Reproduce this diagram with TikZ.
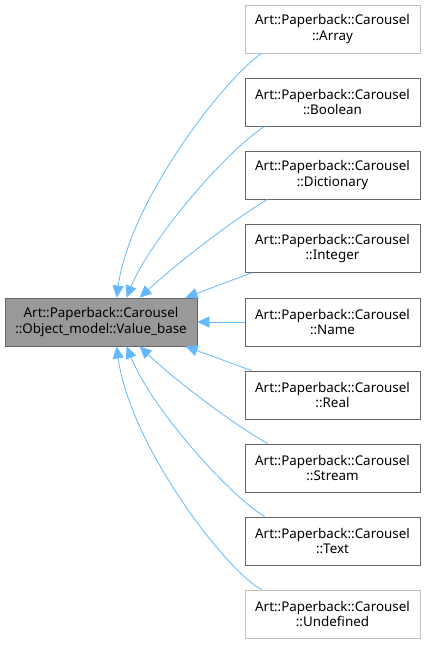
\documentclass[tikz,border=0pt]{standalone}
\usepackage{fontspec}
\setmainfont{Noto Sans}
\usetikzlibrary{arrows.meta}
\definecolor{edgeblue}{HTML}{63B8FF}
\definecolor{boxdark}{HTML}{666666}
\definecolor{boxlight}{HTML}{BFBFBF}
\definecolor{basefill}{HTML}{999999}
\tikzset{
  cls/.style={draw=boxdark, fill=white, line width=0.8pt, minimum width=175pt, minimum height=48pt, align=center, font=\fontsize{13.4}{15.5}\selectfont, inner sep=0pt},
  clslight/.style={cls, draw=boxlight},
  basecls/.style={cls, fill=basefill, minimum width=192pt, minimum height=48pt},
  edge/.style={draw=edgeblue, line width=0.8pt, -{Triangle[length=12pt,width=11pt]}}
}
\begin{document}
\begin{tikzpicture}[x=1pt,y=-1pt]
\useasboundingbox (0,0) rectangle (425,646);
\node[basecls] (base) at (101,322) {Art::Paperback::Carousel\\::Object\_model::Value\_base};
\node[clslight] (array) at (332.5,29) {Art::Paperback::Carousel\\::Array};
\node[cls] (boolean) at (332.5,102) {Art::Paperback::Carousel\\::Boolean};
\node[cls] (dict) at (332.5,175) {Art::Paperback::Carousel\\::Dictionary};
\node[cls] (integer) at (332.5,248.5) {Art::Paperback::Carousel\\::Integer};
\node[cls] (name) at (332.5,322) {Art::Paperback::Carousel\\::Name};
\node[cls] (real) at (332.5,395) {Art::Paperback::Carousel\\::Real};
\node[cls] (stream) at (332.5,468) {Art::Paperback::Carousel\\::Stream};
\node[cls] (text) at (332.5,541) {Art::Paperback::Carousel\\::Text};
\node[clslight] (undef) at (332.5,614) {Art::Paperback::Carousel\\::Undefined};

\draw[edge] ([xshift=17pt]array.south west) .. controls (225,78) and (130,200) .. ([xshift=112pt]base.north west);
\draw[edge] ([xshift=20pt]boolean.south west) .. controls (225,152) and (150,240) .. ([xshift=122pt]base.north west);
\draw[edge] ([xshift=23pt]dict.south west) .. controls (230,222) and (175,265) .. ([xshift=135pt]base.north west);
\draw[edge] ([xshift=7pt]integer.south west) -- ([xshift=181pt]base.north west);
\draw[edge] (name.west) -- (base.east);
\draw[edge] ([xshift=7pt]real.north west) -- ([xshift=181pt]base.south west);
\draw[edge] ([xshift=23pt]stream.north west) .. controls (230,422) and (175,380) .. ([xshift=135pt]base.south west);
\draw[edge] ([xshift=20pt]text.north west) .. controls (225,492) and (150,405) .. ([xshift=122pt]base.south west);
\draw[edge] ([xshift=17pt]undef.north west) .. controls (225,570) and (130,445) .. ([xshift=112pt]base.south west);
\end{tikzpicture}
\end{document}
